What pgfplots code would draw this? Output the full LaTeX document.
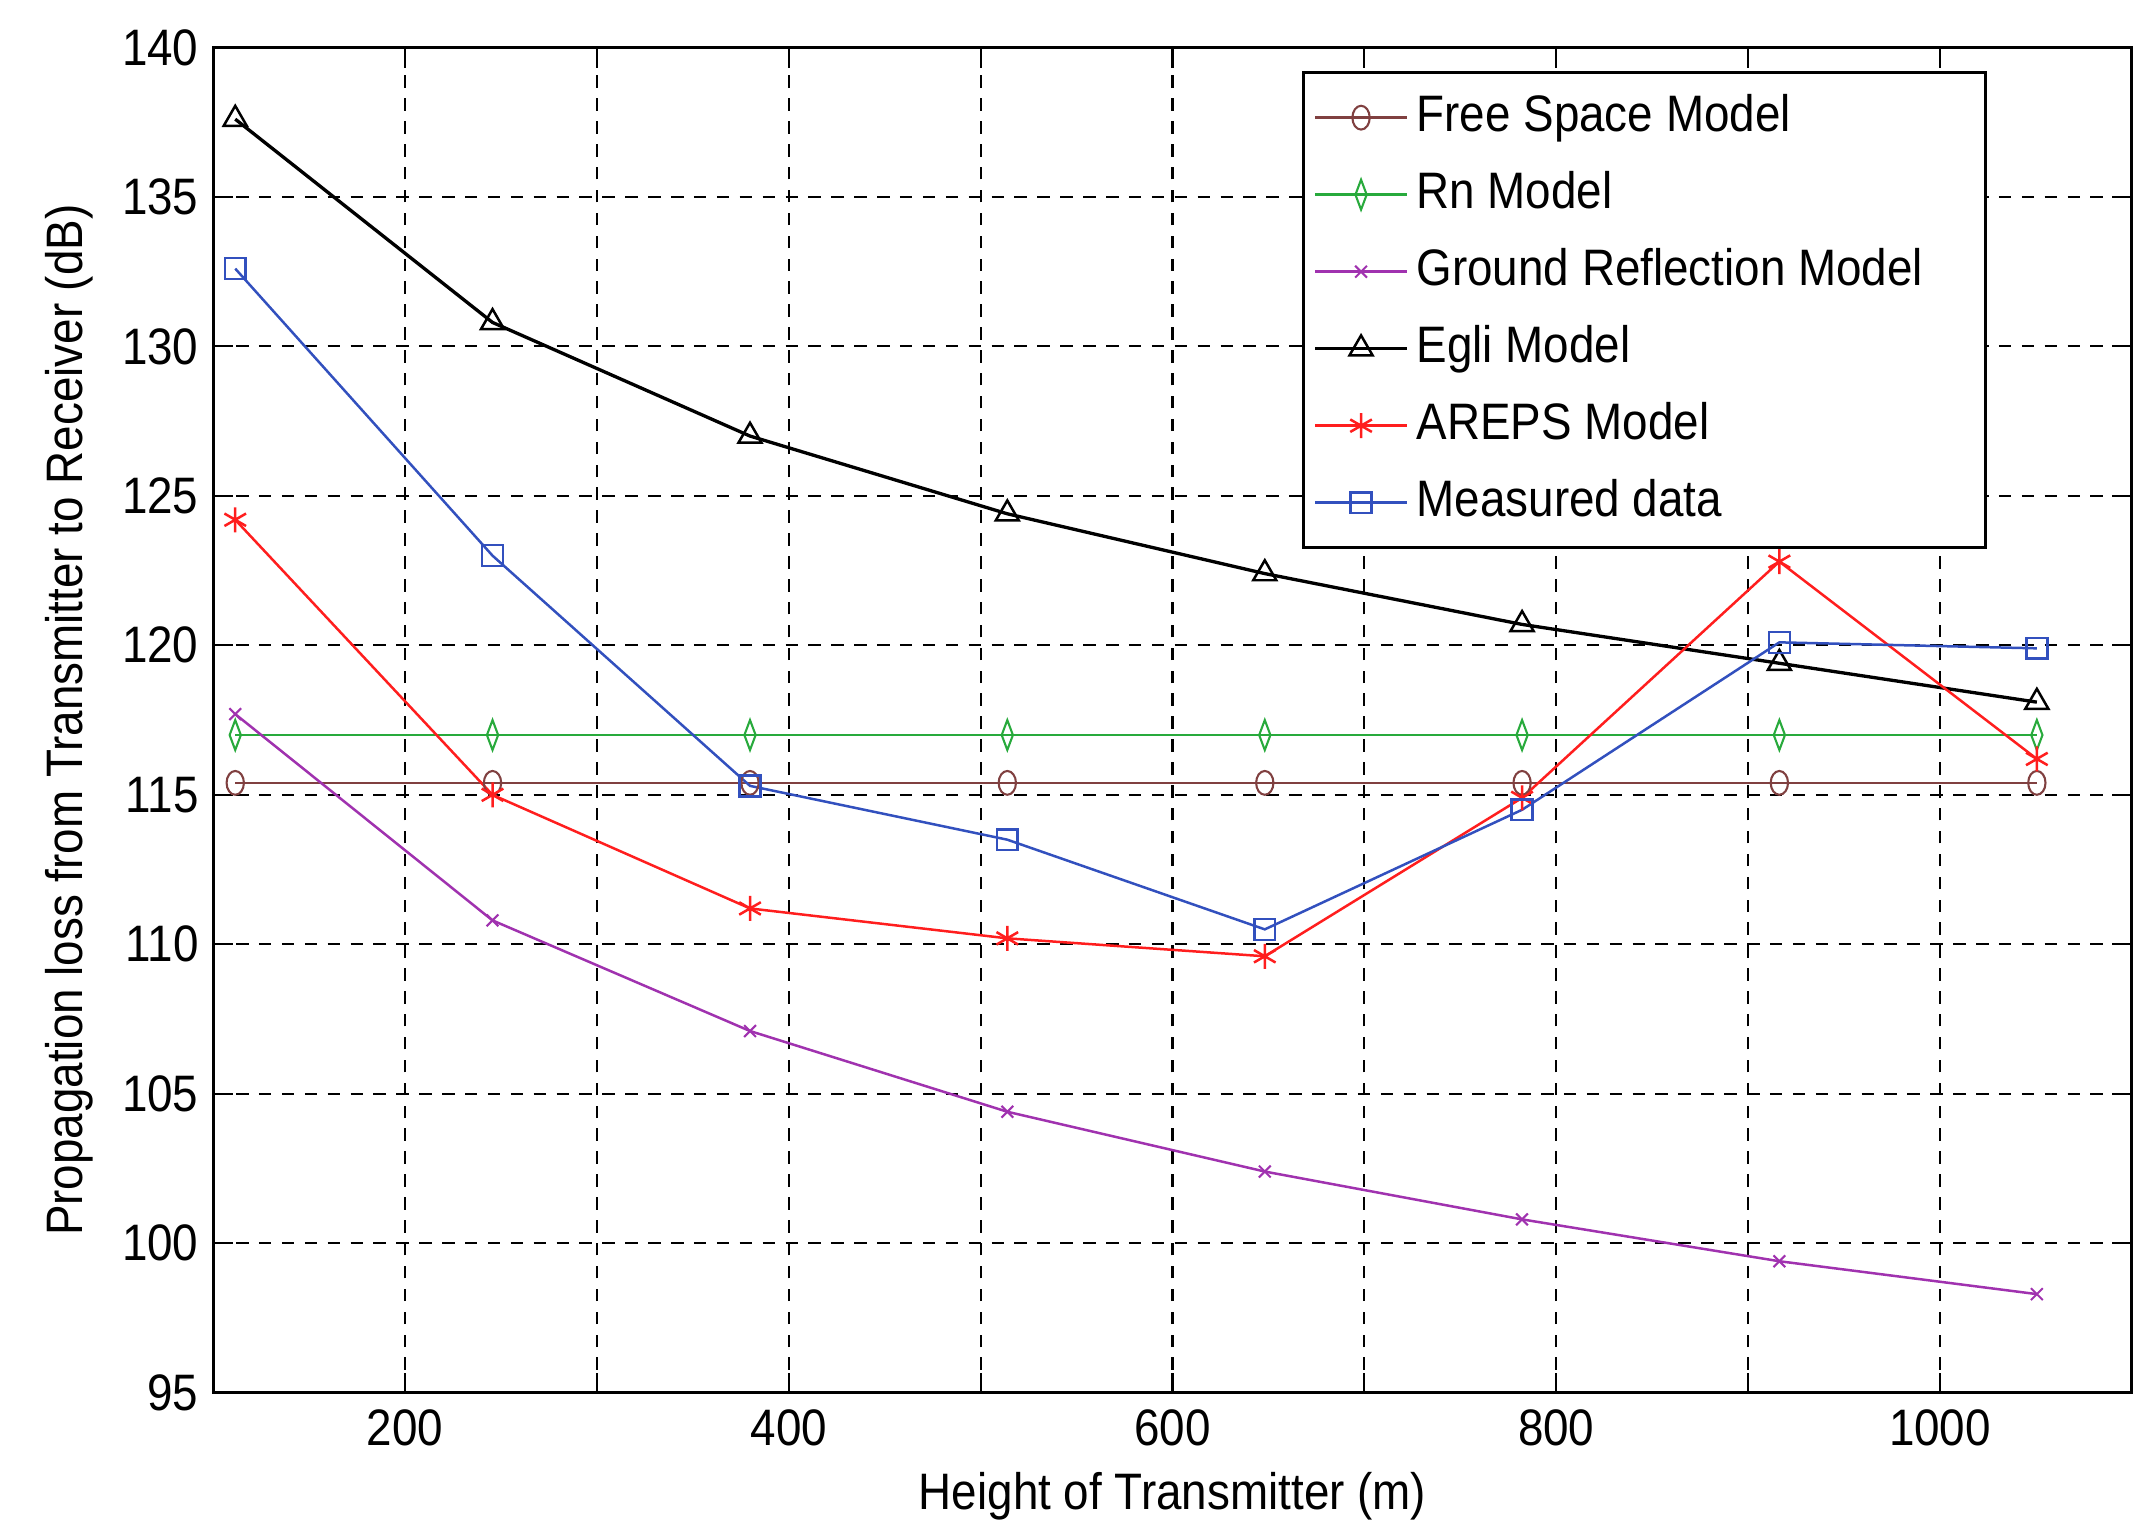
\documentclass[border=0pt]{standalone}
\usepackage{fontspec}
\setmainfont{Liberation Sans}
\usepackage{pgfplots}
\usepackage{pgfplotstable}
\pgfplotsset{compat=1.18}

\definecolor{fsBrown}{RGB}{128,64,64}
\definecolor{rnGreen}{RGB}{40,170,60}
\definecolor{grPurple}{RGB}{160,50,175}
\definecolor{arRed}{RGB}{255,30,30}
\definecolor{msBlue}{RGB}{50,80,190}

% height, free space, Rn, ground reflection, Egli, AREPS, measured
\pgfplotstableread{
h      fs     rn     gr     egli   areps  meas
111.5  115.4  117.0  117.7  137.6  124.2  132.6
245.6  115.4  117.0  110.8  130.8  115.0  123.0
379.8  115.4  117.0  107.1  127.0  111.2  115.3
513.9  115.4  117.0  104.4  124.4  110.2  113.5
648.1  115.4  117.0  102.4  122.4  109.6  110.5
782.2  115.4  117.0  100.8  120.7  114.9  114.5
916.3  115.4  117.0   99.4  119.4  122.8  120.1
1050.5 115.4  117.0   98.3  118.1  116.2  119.9
}\losstable

\newcommand{\lbl}[1]{\makebox[4.65cm][l]{#1}}

\begin{document}
\begin{tikzpicture}
\begin{axis}[
  scale only axis,
  width=16.2cm, height=11.36cm,
  xmin=100, xmax=1100, ymin=95, ymax=140,
  xtick={200,300,...,1000},
  xticklabels={200,,400,,600,,800,,1000},
  ytick={95,100,...,140},
  tick align=inside,
  major tick length=0.17cm,
  tick style={black, line width=0.5pt},
  grid=major,
  grid style={black, dash pattern=on 3pt off 2.5pt, line width=0.5pt},
  axis line style={black, line width=0.8pt},
  /pgf/number format/assume math mode=true,
  ticklabel style={font=\fontsize{11}{13}\selectfont, yscale=1.12},
  label style={font=\fontsize{11}{13}\selectfont},
  xlabel={Height of Transmitter (m)},
  ylabel={Propagation loss from Transmitter to Receiver (dB)},
  xlabel style={at={(axis description cs:0.5,-0.0766)}, anchor=center, yscale=1.12},
  ylabel style={at={(axis description cs:-0.054,0.5)}, anchor=south, yscale=1.12},
  legend style={
    at={(0.9247,0.9824)}, anchor=north east,
    draw=black, line width=0.8pt, fill=white,
    font=\fontsize{11}{13}\selectfont,
    inner sep=2.4pt, row sep=1.7pt,
    nodes={inner sep=2pt, text height=8.5pt, text depth=2.5pt, yscale=1.12},
  },
  legend cell align=left,
  legend image code/.code={
    \draw[mark repeat=2, mark phase=2] plot coordinates {(0cm,0cm) (0.385cm,0cm) (0.77cm,0cm)};
  },
  every axis plot/.append style={line width=0.6pt},
]
\addplot[fsBrown, mark=o, mark size=2.6pt, mark options={xscale=0.8, yscale=1.1, line width=0.5pt}] table[x=h, y=fs] {\losstable};
\addlegendentry{\lbl{Free Space Model}}
\addplot[rnGreen, mark=diamond, mark size=3.6pt, mark options={xscale=0.5, line width=0.5pt}] table[x=h, y=rn] {\losstable};
\addlegendentry{\lbl{Rn Model}}
\addplot[grPurple, mark=x, mark size=2pt, mark options={line width=0.5pt}] table[x=h, y=gr] {\losstable};
\addlegendentry{\lbl{Ground Reflection Model}}
\addplot[black, line width=0.8pt, mark=triangle, mark size=3.2pt, mark options={line width=0.6pt}] table[x=h, y=egli] {\losstable};
\addlegendentry{\lbl{Egli Model}}
\addplot[arRed, mark=asterisk, mark size=3pt, mark options={line width=0.6pt}] table[x=h, y=areps] {\losstable};
\addlegendentry{\lbl{AREPS Model}}
\addplot[msBlue, mark=square, mark size=2.5pt, mark options={line width=0.6pt}] table[x=h, y=meas] {\losstable};
\addlegendentry{\lbl{Measured data}}
\end{axis}
\pgfresetboundingbox
\path (-1.80,-1.11) rectangle (16.21,11.76);
\end{tikzpicture}
\end{document}
